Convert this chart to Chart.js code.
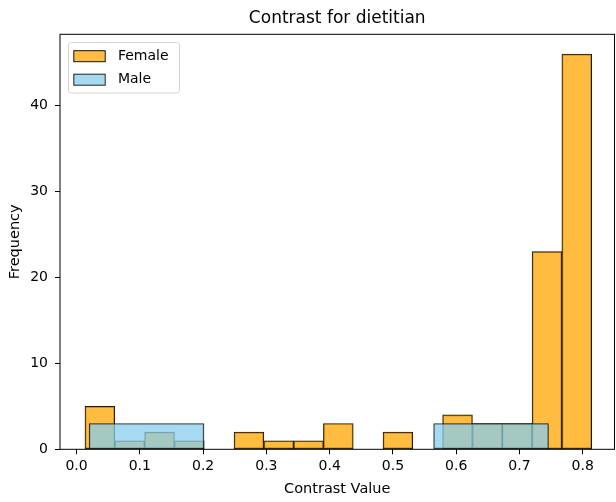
<!DOCTYPE html>
<html lang="en">
<head>
<meta charset="UTF-8">
<title>Contrast for dietitian</title>
<script src="https://cdn.jsdelivr.net/npm/chart.js"></script>
<style>
  html, body { margin: 0; padding: 0; background: #fff; }
  #wrap { width: 616px; height: 502px; position: relative; }
</style>
</head>
<body>
<div id="wrap"><canvas id="histChart"></canvas></div>
<script>
// Histogram bins (bin centres on the contrast axis)
const femaleBins = [0.0368, 0.0840, 0.1311, 0.1782, 0.2253, 0.2724, 0.3195, 0.3666, 0.4137,
                    0.4608, 0.5079, 0.5550, 0.6021, 0.6493, 0.6964, 0.7435, 0.7906];
const femaleCounts = [5, 1, 2, 1, 0, 2, 1, 1, 3, 0, 2, 0, 4, 3, 3, 23, 46];
const maleBins = [0.1106, 0.2921, 0.4736, 0.6551];
const maleCounts = [3, 0, 0, 3];

const seriesNames = ['Female', 'Male'];
const xTickValues = [0.0, 0.1, 0.2, 0.3, 0.4, 0.5, 0.6, 0.7, 0.8];
const yTickValues = [0, 10, 20, 30, 40];
const xRange = [-0.0262, 0.8502];
const yRange = [0, 48.3];

const titleText = 'Contrast for dietitian';
const xLabel = 'Contrast Value';
const yLabel = 'Frequency';

Chart.defaults.font.family = "'DejaVu Sans', sans-serif";
Chart.defaults.font.size = 14;
Chart.defaults.color = '#000';

const useTicks = values => scale => { scale.ticks = values.map(v => ({ value: v })); };

// four spines around the plot area
const frame = {
    id: 'frame',
    afterDatasetsDraw(chart) {
        const { ctx, chartArea: a } = chart;
        ctx.save();
        ctx.strokeStyle = '#000';
        ctx.lineWidth = 1;
        ctx.strokeRect(a.left, a.top, a.right - a.left, a.bottom - a.top);
        ctx.restore();
    }
};

// boxed legend in the upper left corner of the plot
const boxLegend = {
    id: 'boxLegend',
    afterDraw(chart) {
        const { ctx, chartArea: a } = chart;
        const x0 = a.left + 8, y0 = a.top + 7.7;
        ctx.save();
        ctx.beginPath();
        ctx.roundRect(x0 + 0.5, y0 + 0.5, 111, 50.5, 3);
        ctx.fillStyle = 'rgba(255,255,255,0.8)';
        ctx.fill();
        ctx.strokeStyle = '#d4d4d4';
        ctx.lineWidth = 1;
        ctx.stroke();
        ctx.font = "14px 'DejaVu Sans'";
        ctx.textBaseline = 'middle';
        chart.data.datasets.forEach((ds, i) => {
            const cy = y0 + 14.2 + i * 23.5;
            ctx.fillStyle = '#fff';
            ctx.fillRect(x0 + 5.8, cy - 5.5, 31.4, 11);
            ctx.fillStyle = ds.backgroundColor;
            ctx.fillRect(x0 + 5.8, cy - 5.5, 31.4, 11);
            ctx.strokeStyle = ds.borderColor;
            ctx.strokeRect(x0 + 5.8, cy - 5.5, 31.4, 11);
            ctx.fillStyle = '#000';
            ctx.fillText(ds.label, x0 + 49.9, cy);
        });
        ctx.restore();
    }
};

const ctx = document.getElementById('histChart').getContext('2d');
new Chart(ctx, {
    type: 'bar',
    data: {
        datasets: [
            {
                label: seriesNames[0],
                data: femaleBins.map((x, i) => ({ x, y: femaleCounts[i] })),
                xAxisID: 'x',
                order: 1,
                backgroundColor: 'rgba(255,165,0,0.75)',
                borderColor: '#141414',
                borderWidth: 1,
                borderSkipped: false,
                barPercentage: 1,
                categoryPercentage: 1,
                grouped: false
            },
            {
                label: seriesNames[1],
                data: maleBins.map((x, i) => ({ x, y: maleCounts[i] })),
                xAxisID: 'x2',
                order: 0,
                backgroundColor: 'rgba(135,206,235,0.75)',
                borderColor: 'rgba(0,0,0,0.85)',
                borderWidth: 1,
                borderSkipped: false,
                barPercentage: 1,
                categoryPercentage: 1,
                grouped: false
            }
        ]
    },
    options: {
        responsive: true,
        maintainAspectRatio: false,
        animation: false,
        events: [],
        layout: { padding: { left: 0, right: 1.5, top: 0, bottom: 0 } },
        plugins: {
            legend: { display: false },
            title: { display: false },
            tooltip: { enabled: false }
        },
        scales: {
            x: {
                type: 'linear',
                position: 'bottom',
                min: xRange[0],
                max: xRange[1],
                offset: false,
                afterBuildTicks: useTicks(xTickValues),
                afterFit: s => { s.height = 52.7; },
                grid: { offset: false, drawOnChartArea: false, tickLength: 5, color: '#000' },
                border: { display: false },
                ticks: { padding: 4, maxRotation: 0, autoSkip: false, callback: v => v.toFixed(1) },
                title: { display: true, text: xLabel, font: { size: 14.5 }, padding: { top: 0, bottom: 4.3 } }
            },
            x2: {
                type: 'linear',
                display: false,
                min: xRange[0],
                max: xRange[1],
                offset: false,
                afterBuildTicks: s => { s.ticks = []; }
            },
            xTop: {
                type: 'linear',
                position: 'top',
                min: xRange[0],
                max: xRange[1],
                offset: false,
                afterBuildTicks: s => { s.ticks = []; },
                afterFit: s => { s.height = 34.3; },
                grid: { display: false, drawTicks: false },
                border: { display: false },
                ticks: { display: false },
                title: { display: true, text: titleText, font: { size: 17 }, padding: { top: 8, bottom: 0 } }
            },
            y: {
                type: 'linear',
                min: yRange[0],
                max: yRange[1],
                afterBuildTicks: useTicks(yTickValues),
                afterFit: s => { s.width = 60; },
                grid: { drawOnChartArea: false, tickLength: 5, color: '#000' },
                border: { display: false },
                ticks: { padding: 7, callback: v => String(v) },
                title: { display: true, text: yLabel, font: { size: 14.5 }, padding: { top: 7, bottom: 0 } }
            }
        }
    },
    plugins: [frame, boxLegend]
});
</script>
</body>
</html>
